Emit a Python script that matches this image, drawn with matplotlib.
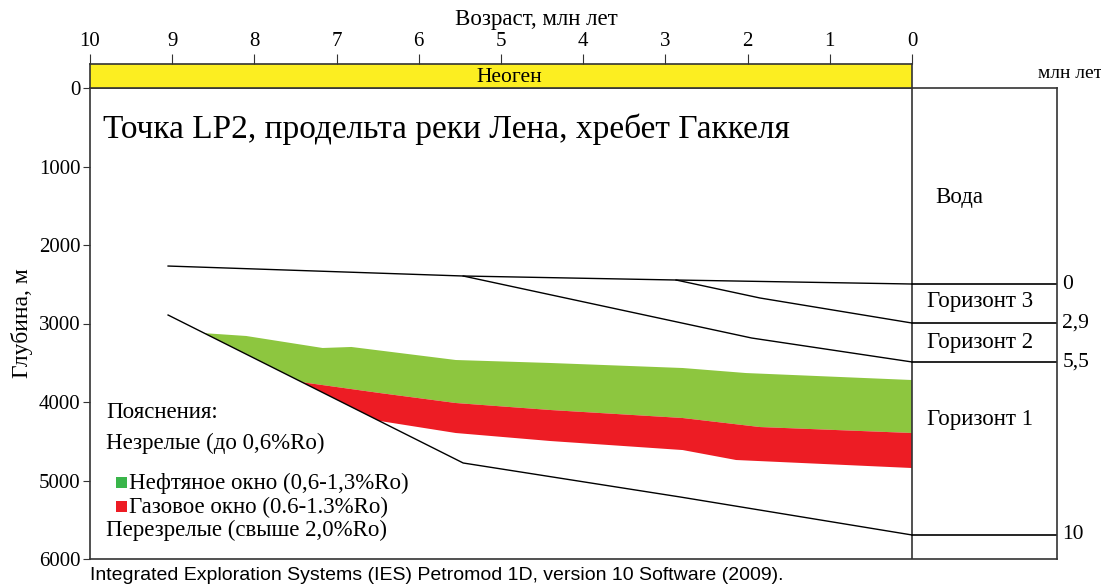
import matplotlib.pyplot as plt
from matplotlib.patches import Rectangle

plt.rcParams['font.family'] = ['Liberation Serif', 'DejaVu Serif']

# ages (Ma) and depths (m)
top_age = [9.05, 5.46, 2.87, 0.0]
top_depth = [2268, 2395, 2446, 2497]

h29_age = [2.87, 1.85, 0.0]
h29_depth = [2446, 2675, 2994]

h55_age = [5.46, 1.95, 0.0]
h55_depth = [2395, 3185, 3490]

h10_age = [9.05, 5.46, 2.82, 0.0]
h10_depth = [2892, 4777, 5210, 5694]

# oil window (green) top edge
oil_top_age = [8.61, 8.10, 7.17, 6.82, 5.55, 4.40, 2.79, 2.02, 0.0]
oil_top_depth = [3123, 3159, 3312, 3299, 3465, 3503, 3567, 3631, 3720]

# gas window (red) top edge = oil window bottom
gas_top_age = [8.61, 7.42, 6.48, 5.55, 4.40, 2.79, 1.85, 0.0]
gas_top_depth = [3123, 3748, 3885, 4013, 4102, 4204, 4319, 4395]

# gas window bottom edge
gas_bot_age = [7.42, 6.48, 5.55, 4.40, 2.79, 2.14, 0.0]
gas_bot_depth = [3748, 4241, 4395, 4497, 4612, 4739, 4841]

horizon_names = ['0', '2,9', '5,5', '10']
horizon_depths = [top_depth[-1], h29_depth[-1], h55_depth[-1], h10_depth[-1]]

age_ticks = [10, 9, 8, 7, 6, 5, 4, 3, 2, 1, 0]
depth_ticks = [0, 1000, 2000, 3000, 4000, 5000, 6000]

green = '#8dc63f'
red = '#ed1c24'
yellow = '#fcee21'
edge = '#333333'

fig = plt.figure(figsize=(11.01, 5.84), dpi=100)
ax = fig.add_axes([90 / 1101, 1 - 559 / 584, (1057 - 90) / 1101, (559 - 88) / 584])
ax.set_xlim(10, -1.764)
ax.set_ylim(6000, 0)

# windows
ax.fill(oil_top_age + gas_top_age[::-1], oil_top_depth + gas_top_depth[::-1],
        color=green, lw=0)
ax.fill(gas_top_age[1:] + gas_bot_age[::-1], gas_top_depth[1:] + gas_bot_depth[::-1],
        color=red, lw=0)

# horizons
for a, d in [(top_age, top_depth), (h29_age, h29_depth), (h55_age, h55_depth), (h10_age, h10_depth)]:
    ax.plot(a, d, color='black', lw=1)

# right panel
ax.axvline(0, color=edge, lw=1.2)
for name, d in zip(horizon_names, horizon_depths):
    ax.plot([0, -1.764], [d, d], color='black', lw=1.2)
    ax.text(-1.83, d, name, ha='left', va='center', fontsize=15.5, clip_on=False)

ax.text(-0.28, 1389, 'Вода', ha='left', va='center', fontsize=16.5)
ax.text(-0.18, 2726, 'Горизонт 3', ha='left', va='center', fontsize=16.5)
ax.text(-0.18, 3248, 'Горизонт 2', ha='left', va='center', fontsize=16.5)
ax.text(-0.18, 4217, 'Горизонт 1', ha='left', va='center', fontsize=16.5)

ax.text(9.84, 520, 'Точка LP2, продельта реки Лена, хребет Гаккеля', ha='left', va='center',
        fontsize=24)

# legend
ax.text(9.8, 4140, 'Пояснения:', ha='left', va='center', fontsize=16.5)
ax.text(9.8, 4522, 'Незрелые (до 0,6%Ro)', ha='left', va='center', fontsize=16.5)
ax.add_patch(Rectangle((9.68, 4960), -0.134, 140, color='#39b54a', lw=0))
ax.text(9.53, 5032, 'Нефтяное окно (0,6-1,3%Ro)', ha='left', va='center', fontsize=16.5)
ax.add_patch(Rectangle((9.68, 5265), -0.134, 140, color=red, lw=0))
ax.text(9.53, 5338, 'Газовое окно (0.6-1.3%Ro)', ha='left', va='center', fontsize=16.5)
ax.text(9.8, 5631, 'Перезрелые (свыше 2,0%Ro)', ha='left', va='center', fontsize=16.5)

ax.set_xticks([])
ax.set_yticks(depth_ticks)
ax.tick_params(axis='y', direction='out', length=5, labelsize=15, color=edge, pad=2)
ax.set_ylabel('Глубина, м', fontsize=17, labelpad=4)
for s in ax.spines.values():
    s.set_color(edge)
    s.set_linewidth(1.2)

# age band
axb = fig.add_axes([90 / 1101, 1 - 88 / 584, (912 - 90) / 1101, 24 / 584])
axb.set_xlim(10, 0)
axb.set_ylim(0, 1)
axb.set_facecolor(yellow)
axb.set_yticks([])
axb.xaxis.tick_top()
axb.set_xticks(age_ticks)
axb.set_xticklabels([str(t) for t in age_ticks])
axb.tick_params(axis='x', direction='out', length=7, labelsize=15, color=edge, pad=2)
for s in axb.spines.values():
    s.set_color(edge)
    s.set_linewidth(1.2)
axb.text(4.9, 0.45, 'Неоген', ha='center', va='center', fontsize=15.5)

fig.text(536 / 1101, 1 - 19 / 584, 'Возраст, млн лет', ha='center', va='center', fontsize=16.5)
fig.text(1070 / 1101, 1 - 73 / 584, 'млн лет', ha='center', va='center', fontsize=14)
fig.text(90 / 1101, 1 - 575 / 584, 'Integrated Exploration Systems (IES) Petromod 1D, version 10 Software (2009).',
         ha='left', va='center', fontsize=14, family='Liberation Sans')

fig.savefig('out.png', dpi=100)
